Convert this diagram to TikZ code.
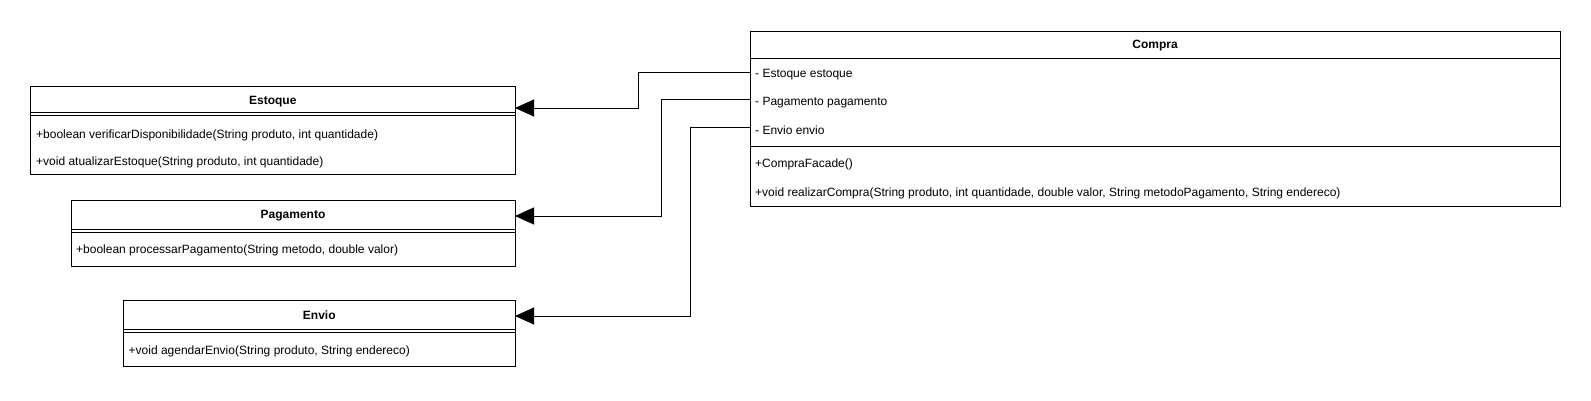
\documentclass[tikz,border=0pt]{standalone}
\usepackage{fontspec}
\setmainfont{Liberation Sans}
\usetikzlibrary{arrows.meta}
\begin{document}
\begin{tikzpicture}[x=1pt,y=-1pt,
  box/.style={draw=black, line width=1pt, fill=white, inner sep=0pt, outer sep=0pt, anchor=north west},
  sepline/.style={draw=black, line width=1pt},
  ttl/.style={font=\fontsize{12}{14}\selectfont\bfseries, inner sep=0pt},
  row/.style={font=\fontsize{12}{14}\selectfont, inner sep=0pt, anchor=west},
  arr/.style={draw=black, line width=1pt, -{Triangle[length=19pt,width=17pt]}}]
\useasboundingbox (0,0) rectangle (1591,400);
% Compra
\node[box, minimum width=810pt, minimum height=175pt] (compra) at (750,31) {};
\draw[sepline] (750,58) -- (1560,58);
\draw[sepline] (750,146) -- (1560,146);
\node[ttl] (ct) at (1155,46) {Compra};
\node[row] (a1) at (755,75) {- Estoque estoque};
\node[row] (a2) at (755,102.5) {- Pagamento pagamento};
\node[row] (a3) at (755,130) {- Envio envio};
\node[row] (m1) at (755,164.5) {+CompraFacade()};
\node[row] (m2) at (755,193) {+void realizarCompra(String produto, int quantidade, double valor, String metodoPagamento, String endereco)};
% Estoque
\node[box, minimum width=484.5pt, minimum height=88pt] (estoque) at (30.5,86) {};
\draw[sepline] (30.5,112.5) -- (515,112.5);
\draw[sepline] (30.5,115.5) -- (515,115.5);
\node[ttl] (et) at (272.75,101.5) {Estoque};
\node[row] (e1) at (36,135.5) {+boolean verificarDisponibilidade(String produto, int quantidade)};
\node[row] (e2) at (36,162.5) {+void atualizarEstoque(String produto, int quantidade)};
% Pagamento
\node[box, minimum width=444pt, minimum height=66.5pt] (pagamento) at (71,200) {};
\draw[sepline] (71,229.5) -- (515,229.5);
\draw[sepline] (71,232.5) -- (515,232.5);
\node[ttl] (pt) at (293,215.5) {Pagamento};
\node[row] (p1) at (76,250.5) {+boolean processarPagamento(String metodo, double valor)};
% Envio
\node[box, minimum width=391.5pt, minimum height=66pt] (envio) at (123.5,300) {};
\draw[sepline] (123.5,329) -- (515,329);
\draw[sepline] (123.5,332) -- (515,332);
\node[ttl] (nt) at (319.25,315) {Envio};
\node[row] (n1) at (128.5,351) {+void agendarEnvio(String produto, String endereco)};
% arrow targets
\coordinate (estIn) at (515,108);
\coordinate (pagIn) at (515,216);
\coordinate (envIn) at (515,316);
% connectors
\draw[arr] (a1.west -| compra.west) ++(0,-3) -- ++(-112,0) |- (estIn);
\draw[arr] (a2.west -| compra.west) ++(0,-3) -- ++(-89,0) |- (pagIn);
\draw[arr] (a3.west -| compra.west) ++(0,-3) -- ++(-60,0) |- (envIn);
\end{tikzpicture}
\end{document}
